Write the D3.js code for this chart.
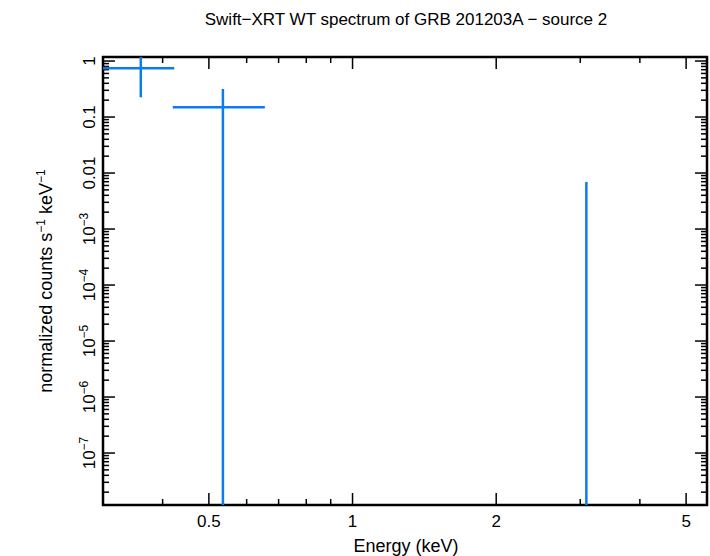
<!DOCTYPE html>
<html><head><meta charset="utf-8">
<script src="https://cdn.jsdelivr.net/npm/d3@7"></script>
<style>body{margin:0;background:#fff}text{font-family:"Liberation Sans",Arial,sans-serif}</style>
</head><body><div id="chart"></div>
<script>
"use strict";
// spectrum bins: energy centre, low/high edges, rate and error bounds
let energy = [0.36, 0.535, 3.09];
let energyLo = [0.30, 0.42, 3.085];
let energyHi = [0.423, 0.655, 3.095];
let rate = [0.74, 0.15, 1e-9];
let rateLo = [0.225, 1e-9, 1e-9];
let rateHi = [1.5, 0.316, 0.0069];
let xTicks = [0.5, 1, 2, 5];
let yTicks = [1, 0.1, 0.01, 1e-3, 1e-4, 1e-5, 1e-6, 1e-7];

let W = 710, H = 556;
let m = {l: 103, r: 3, t: 57, b: 51};
let svg = d3.select("#chart").append("svg").attr("width", W).attr("height", H);
let x = d3.scaleLog().domain([0.3, 5.53]).range([m.l, W - m.r]);
let y = d3.scaleLog().domain([1.18e-8, 1.18]).range([H - m.b, m.t]);
let col = "#0a7cf0";

let g = svg.append("g");
let clip = svg.append("clipPath").attr("id", "c").append("rect")
  .attr("x", m.l).attr("y", m.t).attr("width", W - m.r - m.l).attr("height", H - m.b - m.t);
let pts = svg.append("g").attr("clip-path", "url(#c)");
energy.forEach((e, i) => {
  pts.append("line").attr("x1", x(energyLo[i])).attr("x2", x(energyHi[i]))
    .attr("y1", y(rate[i])).attr("y2", y(rate[i])).attr("stroke", col).attr("stroke-width", 2.5);
  pts.append("line").attr("x1", x(e)).attr("x2", x(e))
    .attr("y1", y(rateLo[i])).attr("y2", y(rateHi[i])).attr("stroke", col).attr("stroke-width", 2.5);
});

// minor/major ticks
let x0 = m.l, x1 = W - m.r, y0 = H - m.b, y1 = m.t;
let xMinor = [];
for (let d = 0.1; d < 10; d *= 10) for (let k = 1; k < 10; k++) {
  let v = d * k; if (v >= 0.3 && v <= 5.53) xMinor.push(v);
}
xMinor.forEach(v => {
  let len = xTicks.includes(v) || v === 1 ? 12 : 6;
  [[y0, -len], [y1, len]].forEach(([yy, l]) =>
    g.append("line").attr("x1", x(v)).attr("x2", x(v)).attr("y1", yy).attr("y2", yy + l)
      .attr("stroke", "#000").attr("stroke-width", 1.5));
});
let yMinor = [];
for (let p = -8; p <= 0; p++) for (let k = 1; k < 10; k++) {
  let v = k * Math.pow(10, p); if (v >= 1.18e-8 && v <= 1.18) yMinor.push([v, k === 1]);
}
yMinor.forEach(([v, major]) => {
  let len = major ? 12 : 6;
  [[x0, len], [x1, -len]].forEach(([xx, l]) =>
    g.append("line").attr("x1", xx).attr("x2", xx + l).attr("y1", y(v)).attr("y2", y(v))
      .attr("stroke", "#000").attr("stroke-width", 1.5));
});
g.append("rect").attr("x", x0).attr("y", y1).attr("width", x1 - x0).attr("height", y0 - y1)
  .attr("fill", "none").attr("stroke", "#000").attr("stroke-width", 2.5);

xTicks.forEach(v => g.append("text").attr("x", x(v)).attr("y", y0 + 22)
  .attr("text-anchor", "middle").attr("font-size", 17).text(v));

yTicks.forEach(v => {
  let t = g.append("text").attr("transform", `translate(${x0 - 8},${y(v)}) rotate(-90)`)
    .attr("text-anchor", "middle").attr("font-size", 17);
  if (v >= 0.01) t.text(v);
  else {
    t.append("tspan").text("10");
    t.append("tspan").attr("dy", -7).attr("font-size", 12).text("\u2212" + Math.round(-Math.log10(v)));
  }
});

svg.append("text").attr("x", 406).attr("y", 25).attr("text-anchor", "middle").attr("font-size", 17)
  .text("Swift\u2212XRT WT spectrum of GRB 201203A \u2212 source 2");
svg.append("text").attr("x", 406).attr("y", 552).attr("text-anchor", "middle").attr("font-size", 18)
  .text("Energy (keV)");
let yl = svg.append("text").attr("transform", "translate(52,281) rotate(-90)")
  .attr("text-anchor", "middle").attr("font-size", 18);
yl.append("tspan").text("normalized counts s");
yl.append("tspan").attr("dy", -7).attr("font-size", 12).text("\u22121");
yl.append("tspan").attr("dy", 7).text(" keV");
yl.append("tspan").attr("dy", -7).attr("font-size", 12).text("\u22121");
</script></body></html>
